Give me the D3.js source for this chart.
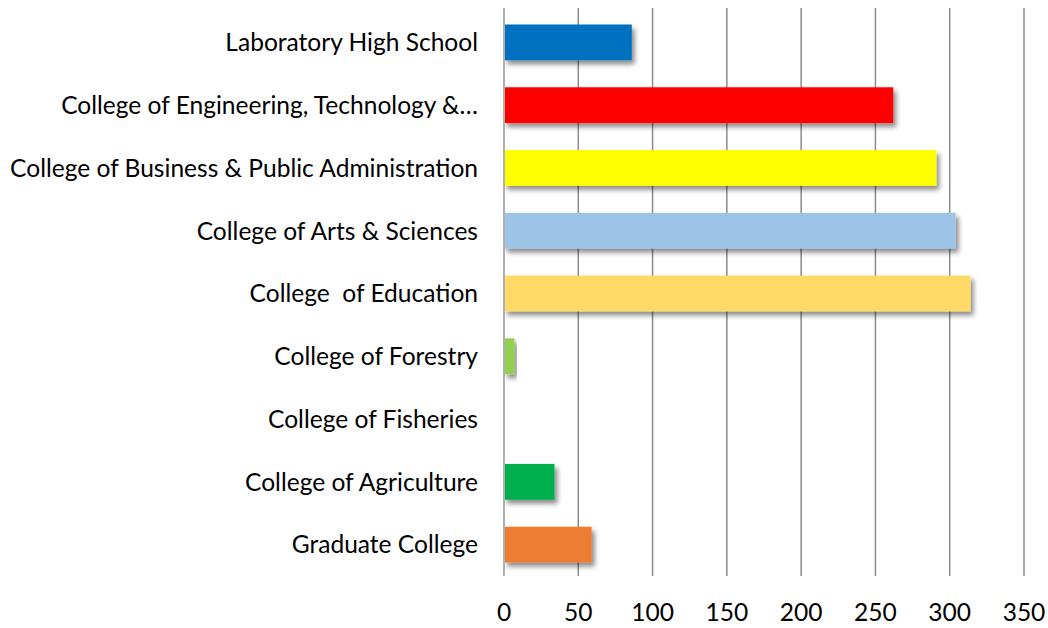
<!DOCTYPE html>
<html>
<head>
<meta charset="utf-8">
<script src="https://cdn.jsdelivr.net/npm/d3@7"></script>
<style>
  body { margin: 0; background: #fff; }
  text { font-family: Lato, "Open Sans", sans-serif; fill: #000; white-space: pre; }
</style>
</head>
<body>
<script>
// categories top to bottom
const categories = [
  'Laboratory High School',
  'College of Engineering, Technology &\u2026',
  'College of Business & Public Administration',
  'College of Arts & Sciences',
  'College  of Education',
  'College of Forestry',
  'College of Fisheries',
  'College of Agriculture',
  'Graduate College'
];
const values = [86, 262, 291, 304, 314, 7, 0, 34, 59];
const colors = ['#0070C0', '#FF0000', '#FFFF00', '#9DC3E6', '#FFD966', '#92D050', '#A5A5A5', '#00B050', '#ED7D31'];
const ticks = [0, 50, 100, 150, 200, 250, 300, 350];

const width = 1048, height = 628;

const svg = d3.select('body').append('svg')
  .attr('width', width)
  .attr('height', height);

const defs = svg.append('defs');
defs.append('filter')
  .attr('id', 'shadow')
  .attr('x', '-10%').attr('y', '-30%')
  .attr('width', '130%').attr('height', '180%')
  .append('feDropShadow')
  .attr('dx', 3).attr('dy', 4)
  .attr('stdDeviation', 2.5)
  .attr('flood-color', '#000')
  .attr('flood-opacity', 0.45);

const x = d3.scaleLinear().domain([0, 350]).range([504, 1024]);
const y = d3.scaleBand().domain(categories).range([11, 576]).paddingInner(0.43).paddingOuter(0.215);

// gridlines
svg.append('g')
  .selectAll('line')
  .data(ticks.slice(1))
  .join('line')
  .attr('x1', d => x(d)).attr('x2', d => x(d))
  .attr('y1', 8).attr('y2', 576)
  .attr('stroke', '#8c8c8c')
  .attr('stroke-width', 1.5);

// bars
svg.append('g')
  .selectAll('rect')
  .data(values)
  .join('rect')
  .attr('x', x(0))
  .attr('y', (d, i) => y(categories[i]))
  .attr('width', d => x(d) - x(0))
  .attr('height', y.bandwidth())
  .attr('fill', (d, i) => colors[i])
  .attr('filter', d => d > 0 ? 'url(#shadow)' : null);

// value axis line
svg.append('line')
  .attr('x1', x(0)).attr('x2', x(0))
  .attr('y1', 8).attr('y2', 576)
  .attr('stroke', '#b0b0b0')
  .attr('stroke-width', 2);

// tick labels
svg.append('g')
  .selectAll('text')
  .data(ticks)
  .join('text')
  .attr('x', d => x(d))
  .attr('y', 621)
  .attr('text-anchor', 'middle')
  .attr('font-size', 22)
  .text(d => d);

// category labels
const labels = svg.append('g')
  .selectAll('text')
  .data(categories)
  .join('text')
  .attr('x', 478)
  .attr('y', d => y(d) + y.bandwidth() / 2)
  .attr('dy', '0.36em')
  .attr('text-anchor', 'end')
  .attr('font-size', 22)
  .text(d => d);

// fit the longest label to the reference width
const longest = labels.filter((d, i) => i === 2).node().getComputedTextLength();
const fs = 22 * 468 / longest;
labels.attr('font-size', fs);
svg.selectAll('g text').filter(d => typeof d === 'number').attr('font-size', fs);
</script>
</body>
</html>
